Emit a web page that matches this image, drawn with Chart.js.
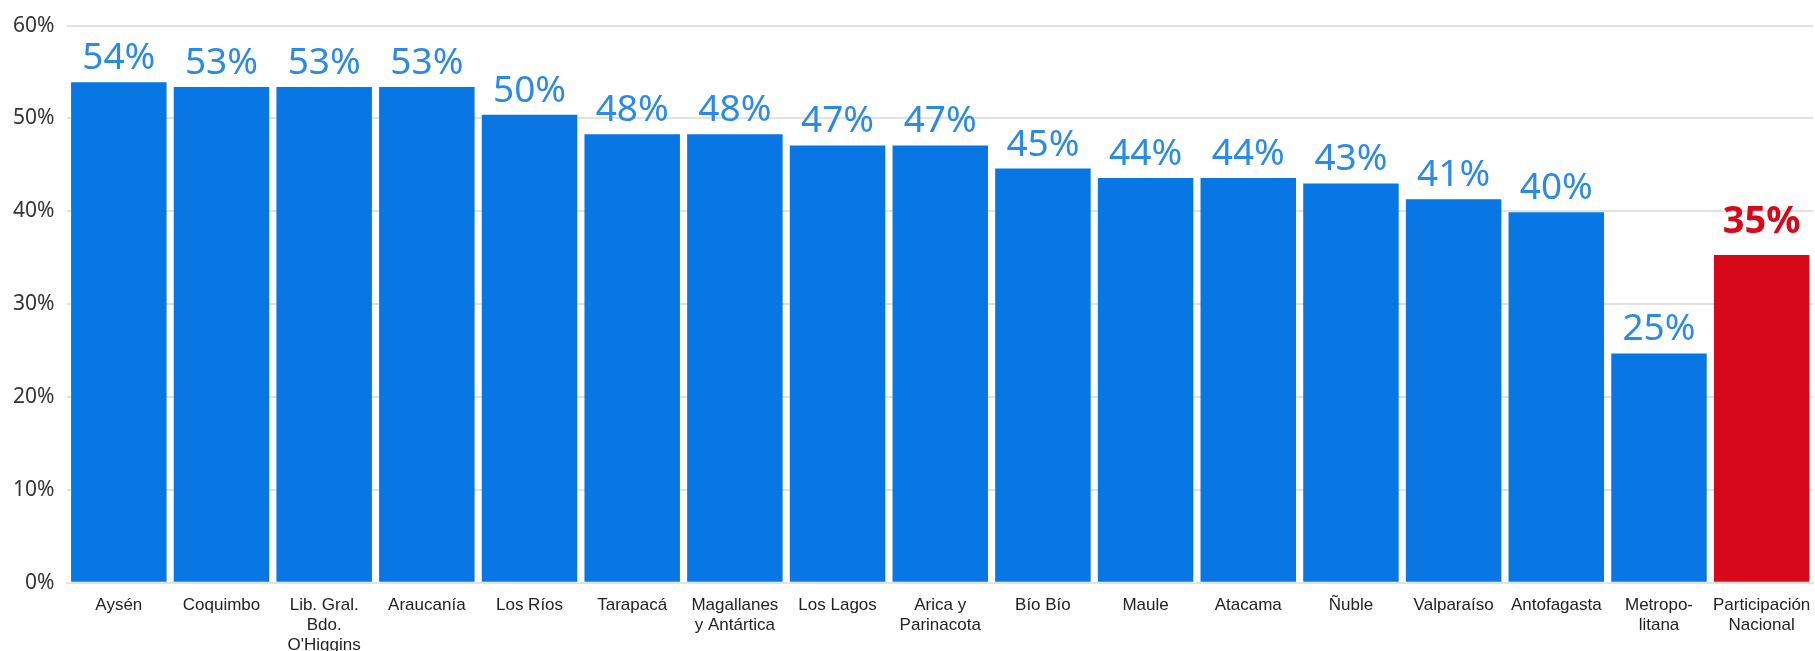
<!DOCTYPE html>
<html>
<head>
<meta charset="utf-8">
<script src="https://cdn.jsdelivr.net/npm/chart.js@4"></script>
<style>
  html, body { margin: 0; padding: 0; background: #fff; }
  #wrap { width: 1815px; height: 651px; }
</style>
</head>
<body>
<div id="wrap"><canvas id="participacionChart"></canvas></div>
<script>
const regiones = [
    'Aysén', 'Coquimbo', ['Lib. Gral.', 'Bdo.', 'O\'Higgins'], 'Araucanía', 'Los Ríos',
    'Tarapacá', ['Magallanes', 'y Antártica'], 'Los Lagos', ['Arica y', 'Parinacota'], 'Bío Bío',
    'Maule', 'Atacama', 'Ñuble', 'Valparaíso', 'Antofagasta', ['Metropo-', 'litana'],
    ['Participación', 'Nacional']
];
const participacion = [53.9, 53.4, 53.4, 53.4, 50.4, 48.3, 48.3, 47.1, 47.1, 44.6, 43.6, 43.6, 43.0, 41.3, 39.9, 24.7, 35.3];
const yTicks = [0, 10, 20, 30, 40, 50, 60];

const nacionalIndex = regiones.length - 1;
const barColors = participacion.map((v, i) => i === nacionalIndex ? '#D7081A' : '#0877E3');

// draws the percentage above every bar
const barLabels = {
    id: 'barLabels',
    afterDatasetsDraw(chart) {
        const ctx = chart.ctx;
        const meta = chart.getDatasetMeta(0);
        ctx.save();
        ctx.textAlign = 'center';
        ctx.textBaseline = 'alphabetic';
        meta.data.forEach((bar, i) => {
            const text = Math.round(participacion[i]) + '%';
            if (i === nacionalIndex) {
                ctx.font = 'bold 38px "Noto Sans"';
                ctx.fillStyle = '#D7081A';
                ctx.fillText(text, bar.x, bar.y - 22);
            } else {
                ctx.font = '37px "Noto Sans"';
                ctx.fillStyle = '#2B8AE6';
                ctx.fillText(text, bar.x, bar.y - 13);
            }
        });
        ctx.restore();
    }
};

const ctxParticipacion = document.getElementById('participacionChart');
const myChart = new Chart(ctxParticipacion, {
    type: 'bar',
    data: {
        labels: regiones,
        datasets: [{
            label: 'Participación',
            data: participacion,
            backgroundColor: barColors,
            barPercentage: 0.93,
            categoryPercentage: 1
        }]
    },
    options: {
        responsive: true,
        maintainAspectRatio: false,
        animation: false,
        layout: {
            padding: { top: 16, right: 2, left: 0, bottom: -8 }
        },
        plugins: {
            legend: { display: false },
            tooltip: { enabled: false }
        },
        scales: {
            x: {
                grid: { display: false },
                border: { display: true, color: '#e2e2e2', width: 2 },
                ticks: {
                    color: '#222',
                    font: { family: '"Liberation Sans Narrow", "Liberation Sans"', size: 17, lineHeight: 1.18 },
                    maxRotation: 0,
                    autoSkip: false,
                    padding: 4
                }
            },
            y: {
                min: 0,
                max: 60,
                afterBuildTicks(axis) {
                    axis.ticks = yTicks.map(v => ({ value: v }));
                },
                grid: { color: '#e2e2e2', lineWidth: 2, drawTicks: false },
                border: { display: false },
                ticks: {
                    color: '#333',
                    font: { family: '"Noto Sans"', size: 21 },
                    padding: 13,
                    callback: v => v + '%'
                }
            }
        }
    },
    plugins: [barLabels]
});
</script>
</body>
</html>
